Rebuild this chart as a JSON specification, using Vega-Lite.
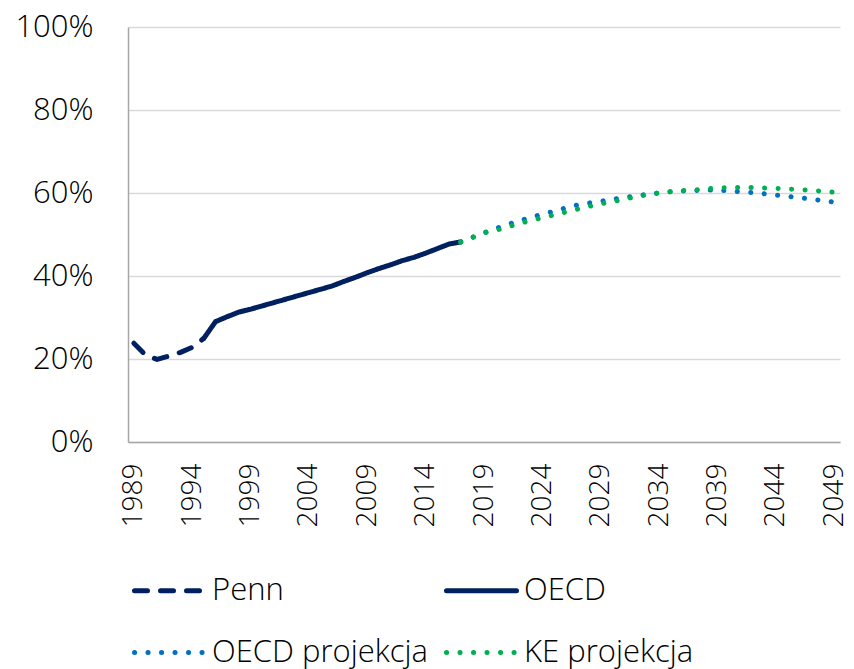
{
  "$schema": "https://vega.github.io/schema/vega-lite/v6.json",
  "width": 712,
  "height": 415,
  "autosize": {"type": "none"},
  "padding": {"left": 128, "top": 27, "right": 14, "bottom": 227},
  "background": "white",
  "config": {
    "font": "Open Sans",
    "view": {"stroke": null},
    "axis": {"labelFont": "Open Sans", "labelFontSize": 31, "labelColor": "#000000", "labelFontWeight": 300}
  },
  "data": {
    "values": [
      {"year": 1989, "series": "Penn", "value": 23.8},
      {"year": 1990, "series": "Penn", "value": 21.0},
      {"year": 1991, "series": "Penn", "value": 19.9},
      {"year": 1992, "series": "Penn", "value": 20.7},
      {"year": 1993, "series": "Penn", "value": 21.6},
      {"year": 1994, "series": "Penn", "value": 22.8},
      {"year": 1995, "series": "Penn", "value": 25.0},
      {"year": 1995, "series": "OECD", "value": 25.0},
      {"year": 1996, "series": "OECD", "value": 29.0},
      {"year": 1997, "series": "OECD", "value": 30.2},
      {"year": 1998, "series": "OECD", "value": 31.3},
      {"year": 1999, "series": "OECD", "value": 32.0},
      {"year": 2000, "series": "OECD", "value": 32.8},
      {"year": 2001, "series": "OECD", "value": 33.6},
      {"year": 2002, "series": "OECD", "value": 34.4},
      {"year": 2003, "series": "OECD", "value": 35.2},
      {"year": 2004, "series": "OECD", "value": 36.0},
      {"year": 2005, "series": "OECD", "value": 36.8},
      {"year": 2006, "series": "OECD", "value": 37.6},
      {"year": 2007, "series": "OECD", "value": 38.7},
      {"year": 2008, "series": "OECD", "value": 39.7},
      {"year": 2009, "series": "OECD", "value": 40.8},
      {"year": 2010, "series": "OECD", "value": 41.8},
      {"year": 2011, "series": "OECD", "value": 42.7},
      {"year": 2012, "series": "OECD", "value": 43.7},
      {"year": 2013, "series": "OECD", "value": 44.5},
      {"year": 2014, "series": "OECD", "value": 45.5},
      {"year": 2015, "series": "OECD", "value": 46.6},
      {"year": 2016, "series": "OECD", "value": 47.7},
      {"year": 2017, "series": "OECD", "value": 48.2},
      {"year": 2017, "series": "OECD projekcja", "value": 48.2},
      {"year": 2018, "series": "OECD projekcja", "value": 49.3},
      {"year": 2019, "series": "OECD projekcja", "value": 50.4},
      {"year": 2020, "series": "OECD projekcja", "value": 51.4},
      {"year": 2021, "series": "OECD projekcja", "value": 52.4},
      {"year": 2022, "series": "OECD projekcja", "value": 53.3},
      {"year": 2023, "series": "OECD projekcja", "value": 54.1},
      {"year": 2024, "series": "OECD projekcja", "value": 54.9},
      {"year": 2025, "series": "OECD projekcja", "value": 55.6},
      {"year": 2026, "series": "OECD projekcja", "value": 56.4},
      {"year": 2027, "series": "OECD projekcja", "value": 57.1},
      {"year": 2028, "series": "OECD projekcja", "value": 57.6},
      {"year": 2029, "series": "OECD projekcja", "value": 58.0},
      {"year": 2030, "series": "OECD projekcja", "value": 58.5},
      {"year": 2031, "series": "OECD projekcja", "value": 58.9},
      {"year": 2032, "series": "OECD projekcja", "value": 59.3},
      {"year": 2033, "series": "OECD projekcja", "value": 59.7},
      {"year": 2034, "series": "OECD projekcja", "value": 60.0},
      {"year": 2035, "series": "OECD projekcja", "value": 60.3},
      {"year": 2036, "series": "OECD projekcja", "value": 60.5},
      {"year": 2037, "series": "OECD projekcja", "value": 60.6},
      {"year": 2038, "series": "OECD projekcja", "value": 60.7},
      {"year": 2039, "series": "OECD projekcja", "value": 60.7},
      {"year": 2040, "series": "OECD projekcja", "value": 60.5},
      {"year": 2041, "series": "OECD projekcja", "value": 60.3},
      {"year": 2042, "series": "OECD projekcja", "value": 60.1},
      {"year": 2043, "series": "OECD projekcja", "value": 59.8},
      {"year": 2044, "series": "OECD projekcja", "value": 59.5},
      {"year": 2045, "series": "OECD projekcja", "value": 59.2},
      {"year": 2046, "series": "OECD projekcja", "value": 58.9},
      {"year": 2047, "series": "OECD projekcja", "value": 58.5},
      {"year": 2048, "series": "OECD projekcja", "value": 58.2},
      {"year": 2049, "series": "OECD projekcja", "value": 57.8},
      {"year": 2017, "series": "KE projekcja", "value": 48.2},
      {"year": 2018, "series": "KE projekcja", "value": 49.3},
      {"year": 2019, "series": "KE projekcja", "value": 50.4},
      {"year": 2020, "series": "KE projekcja", "value": 51.0},
      {"year": 2021, "series": "KE projekcja", "value": 51.8},
      {"year": 2022, "series": "KE projekcja", "value": 52.6},
      {"year": 2023, "series": "KE projekcja", "value": 53.4},
      {"year": 2024, "series": "KE projekcja", "value": 54.0},
      {"year": 2025, "series": "KE projekcja", "value": 54.7},
      {"year": 2026, "series": "KE projekcja", "value": 55.4},
      {"year": 2027, "series": "KE projekcja", "value": 56.1},
      {"year": 2028, "series": "KE projekcja", "value": 56.8},
      {"year": 2029, "series": "KE projekcja", "value": 57.4},
      {"year": 2030, "series": "KE projekcja", "value": 57.9},
      {"year": 2031, "series": "KE projekcja", "value": 58.5},
      {"year": 2032, "series": "KE projekcja", "value": 59.1},
      {"year": 2033, "series": "KE projekcja", "value": 59.6},
      {"year": 2034, "series": "KE projekcja", "value": 60.0},
      {"year": 2035, "series": "KE projekcja", "value": 60.3},
      {"year": 2036, "series": "KE projekcja", "value": 60.6},
      {"year": 2037, "series": "KE projekcja", "value": 60.7},
      {"year": 2038, "series": "KE projekcja", "value": 61.0},
      {"year": 2039, "series": "KE projekcja", "value": 61.2},
      {"year": 2040, "series": "KE projekcja", "value": 61.3},
      {"year": 2041, "series": "KE projekcja", "value": 61.3},
      {"year": 2042, "series": "KE projekcja", "value": 61.3},
      {"year": 2043, "series": "KE projekcja", "value": 61.2},
      {"year": 2044, "series": "KE projekcja", "value": 61.1},
      {"year": 2045, "series": "KE projekcja", "value": 61.0},
      {"year": 2046, "series": "KE projekcja", "value": 60.8},
      {"year": 2047, "series": "KE projekcja", "value": 60.7},
      {"year": 2048, "series": "KE projekcja", "value": 60.4},
      {"year": 2049, "series": "KE projekcja", "value": 60.2}
    ]
  },
  "mark": {"type": "line", "strokeWidth": 5, "strokeCap": "round", "strokeJoin": "round"},
  "encoding": {
    "x": {
      "field": "year",
      "type": "quantitative",
      "scale": {"domain": [1988.5, 2049.5], "nice": false, "zero": false},
      "axis": {
        "title": null,
        "values": [1989, 1994, 1999, 2004, 2009, 2014, 2019, 2024, 2029, 2034, 2039, 2044, 2049],
        "format": "d",
        "labelAngle": -90,
        "labelPadding": 21,
        "labelFontSize": 28,
        "ticks": false,
        "grid": false,
        "domainColor": "#A6A6A6",
        "domainWidth": 1.5,
        "labelFlush": false,
        "labelOverlap": false
      }
    },
    "y": {
      "field": "value",
      "type": "quantitative",
      "scale": {"domain": [0, 100], "nice": false},
      "axis": {
        "title": null,
        "values": [0, 20, 40, 60, 80, 100],
        "labelExpr": "datum.value + '%'",
        "ticks": false,
        "labelPadding": 35,
        "domainColor": "#A6A6A6",
        "domainWidth": 1.5,
        "gridColor": "#D9D9D9",
        "gridWidth": 1.5,
        "labelFlush": false
      }
    },
    "color": {
      "field": "series",
      "type": "nominal",
      "scale": {
        "domain": ["Penn", "OECD", "OECD projekcja", "KE projekcja"],
        "range": ["#002060", "#002060", "#0070C0", "#00B050"]
      },
      "legend": {
        "title": null,
        "orient": "none",
        "direction": "horizontal",
        "legendX": 26,
        "legendY": 548,
        "columns": 2,
        "columnPadding": 8,
        "rowPadding": 30,
        "symbolType": "M-3.5,0H3.5",
        "symbolSize": 400,
        "symbolStrokeWidth": 5,
        "labelOffset": 27,
        "labelFont": "Open Sans",
        "labelFontSize": 31,
        "labelFontWeight": 300,
        "labelColor": "#000000",
        "labelLimit": 400,
        "encode": {
          "symbols": {"update": {"strokeCap": {"value": "round"}}}
        }
      }
    },
    "strokeDash": {
      "field": "series",
      "type": "nominal",
      "scale": {
        "domain": ["Penn", "OECD", "OECD projekcja", "KE projekcja"],
        "range": [[13, 13], [1, 0], [0.1, 13.4], [0.1, 13.4]]
      },
      "legend": null
    }
  }
}
